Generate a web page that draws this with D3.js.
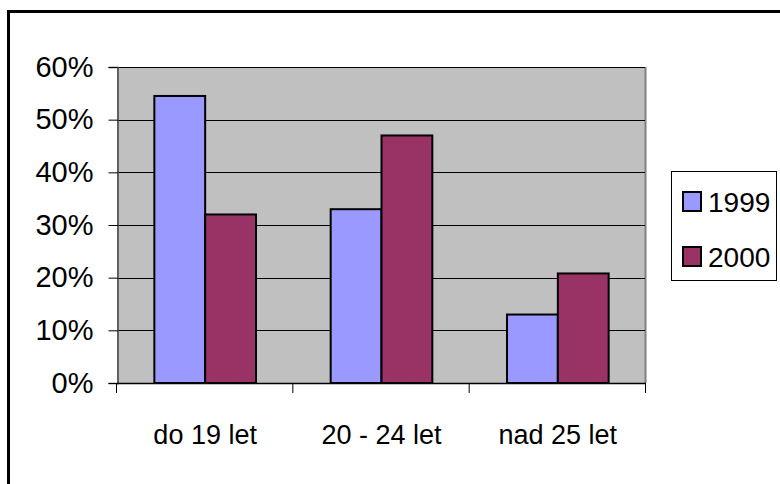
<!DOCTYPE html>
<html><head><meta charset="utf-8">
<script src="https://cdn.jsdelivr.net/npm/d3@7"></script>
<style>html,body{margin:0;padding:0;background:#fff;}svg{display:block;font-family:"Liberation Sans",Arial,sans-serif;}</style>
</head><body>
<script>
const categories = ["do 19 let", "20 - 24 let", "nad 25 let"];
const seriesNames = ["1999", "2000"];
const values1999 = [54.5, 33, 13];
const values2000 = [32, 47, 20.8];
const yTicks = [0, 10, 20, 30, 40, 50, 60];
const colors = ["#9999FF", "#993366"];

const W = 780, H = 484;
const svg = d3.select("body").append("svg").attr("width", W).attr("height", H);

// outer frame (extends past bottom/right)
svg.append("rect").attr("x", 8.5).attr("y", 11.5).attr("width", 800).attr("height", 500)
  .attr("fill", "#fff").attr("stroke", "#000").attr("stroke-width", 3);

const px0 = 117, px1 = 646, py0 = 383, py1 = 67;
const x = d3.scaleBand().domain(categories).range([px0, px1]).paddingInner(0).paddingOuter(0);
const xs = d3.scaleBand().domain(seriesNames).range([0, x.bandwidth()]).paddingInner(0).paddingOuter(0.735);
const y = d3.scaleLinear().domain([0, 60]).range([py0, py1]);

// plot area
svg.append("rect").attr("x", px0).attr("y", py1).attr("width", px1 - px0).attr("height", py0 - py1)
  .attr("fill", "#C0C0C0");
svg.append("line").attr("x1", px1 - 0.5).attr("x2", px1 - 0.5).attr("y1", py1).attr("y2", py0)
  .attr("stroke", "#808080").attr("stroke-width", 2);

// gridlines
svg.append("g").selectAll("line").data(yTicks.filter(d => d > 0)).join("line")
  .attr("x1", px0).attr("x2", px1 - 1)
  .attr("y1", d => Math.round(y(d)) + 0.5).attr("y2", d => Math.round(y(d)) + 0.5)
  .attr("stroke", "#000").attr("stroke-width", 1);

// bars
const data = categories.map((c, i) => ({ c, vals: [values1999[i], values2000[i]] }));
const g = svg.append("g");
data.forEach(d => {
  d.vals.forEach((v, j) => {
    g.append("rect")
      .attr("x", x(d.c) + xs(seriesNames[j]))
      .attr("y", y(v))
      .attr("width", xs.bandwidth())
      .attr("height", y(0) - y(v))
      .attr("fill", colors[j])
      .attr("stroke", "#000").attr("stroke-width", 2);
  });
});

// y axis
const yAxis = d3.axisLeft(y).tickValues(yTicks).tickFormat(d => d + "%").tickSize(9).tickPadding(15);
const ya = svg.append("g").attr("transform", `translate(${px0 + 0.5},0)`).call(yAxis);
ya.select(".domain").attr("stroke", "#404040").attr("stroke-width", 1.5);
ya.selectAll(".tick line").attr("stroke", "#000");
ya.selectAll("text").attr("font-size", 29).attr("fill", "#000")
  .attr("font-family", "'Liberation Sans', Arial, sans-serif");

// x axis baseline + ticks at category boundaries
svg.append("line").attr("x1", px0).attr("x2", px1).attr("y1", py0 + 0.5).attr("y2", py0 + 0.5)
  .attr("stroke", "#000").attr("stroke-width", 1.5);
const bounds = categories.map(c => x(c)).concat([px1]);
svg.append("g").selectAll("line").data(bounds).join("line")
  .attr("x1", d => d - 0.5).attr("x2", d => d - 0.5).attr("y1", py0).attr("y2", py0 + 10)
  .attr("stroke", "#000").attr("stroke-width", 1);
svg.append("g").selectAll("text").data(categories).join("text")
  .attr("x", d => x(d) + x.bandwidth() / 2).attr("y", 444)
  .attr("text-anchor", "middle").attr("font-size", 27).attr("fill", "#000")
  .text(d => d);

// legend
const lg = svg.append("g");
lg.append("rect").attr("x", 671.5).attr("y", 171.5).attr("width", 105).attr("height", 109)
  .attr("fill", "#fff").attr("stroke", "#000").attr("stroke-width", 1);
seriesNames.forEach((s, i) => {
  const cy = 202 + i * 55;
  lg.append("rect").attr("x", 683).attr("y", cy - 10).attr("width", 18).attr("height", 19)
    .attr("fill", colors[i]).attr("stroke", "#000").attr("stroke-width", 2);
  lg.append("text").attr("x", 708).attr("y", cy + 10).attr("font-size", 28).attr("fill", "#000").text(s);
});
</script>
</body></html>
